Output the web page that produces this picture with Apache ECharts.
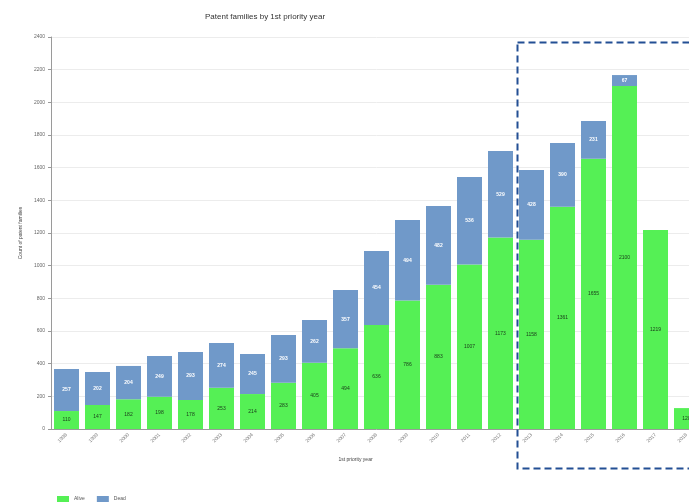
<!DOCTYPE html>
<html>
<head>
<meta charset="utf-8">
<style>
  html, body { margin: 0; padding: 0; background: #fff; overflow: hidden; }
  /* the plot runs a little past the right edge of the window */
  #chart { width: 702px; height: 502px; }
</style>
<script src="https://cdn.jsdelivr.net/npm/echarts@6/dist/echarts.min.js"></script>
</head>
<body>
<div id="chart"></div>
<script>
// Priority years on the category axis
const years = ['1998', '1999', '2000', '2001', '2002', '2003', '2004', '2005', '2006', '2007',
  '2008', '2009', '2010', '2011', '2012', '2013', '2014', '2015', '2016', '2017', '2018'];

// Patent family counts per status
const aliveCounts = [110, 147, 182, 198, 178, 253, 214, 283, 405, 494,
  636, 786, 883, 1007, 1173, 1158, 1361, 1655, 2100, 1219, 128];
const deadCounts = [257, 202, 204, 249, 293, 274, 245, 293, 262, 357,
  454, 494, 482, 536, 529, 428, 390, 231, 67, null, null];

const seriesNames = ['Alive', 'Dead'];
const yTicks = { min: 0, max: 2400, interval: 200 };

const chart = echarts.init(document.getElementById('chart'), null, { renderer: 'canvas' });

const labelBase = { show: true, position: 'inside', fontSize: 5, fontFamily: 'Liberation Sans' };

chart.setOption({
  animation: false,
  backgroundColor: '#ffffff',
  title: {
    text: 'Patent families by 1st priority year',
    left: 200,
    top: 8,
    textStyle: { fontSize: 8, fontWeight: 'normal', color: '#333', fontFamily: 'Liberation Sans' }
  },
  legend: {
    left: 52,
    top: 491,
    itemWidth: 12,
    itemHeight: 6,
    itemGap: 12,
    icon: 'rect',
    textStyle: { fontSize: 5, color: '#555', fontFamily: 'Liberation Sans' },
    data: seriesNames
  },
  grid: { left: 51, top: 37, bottom: 73, right: 0, containLabel: false },
  xAxis: {
    type: 'category',
    data: years,
    name: '1st priority year',
    nameLocation: 'middle',
    nameGap: 28,
    nameTextStyle: { fontSize: 5, color: '#444', fontFamily: 'Liberation Sans', padding: [0, 42, 0, 0] },
    axisLine: { show: true, lineStyle: { color: '#9a9a9a', width: 1 } },
    axisTick: { show: false },
    axisLabel: { rotate: 45, fontSize: 5, color: '#777', margin: 5, fontFamily: 'Liberation Sans' }
  },
  yAxis: {
    type: 'value',
    min: yTicks.min,
    max: yTicks.max,
    interval: yTicks.interval,
    name: 'Count of patent families',
    nameLocation: 'middle',
    nameGap: 25,
    nameTextStyle: { fontSize: 5, color: '#444', fontFamily: 'Liberation Sans' },
    axisLine: { show: true, lineStyle: { color: '#9a9a9a', width: 1 } },
    axisTick: { show: true, length: 3, lineStyle: { color: '#9a9a9a' } },
    axisLabel: {
      fontSize: 5, color: '#666', margin: 6, fontFamily: 'Liberation Sans',
      formatter: function (v) { return String(v); }
    },
    splitLine: { show: true, lineStyle: { color: '#ececec', width: 1 } }
  },
  series: [
    {
      name: seriesNames[0],
      type: 'bar',
      stack: 'total',
      barWidth: 25,
      data: aliveCounts,
      itemStyle: { color: '#55f055' },
      label: Object.assign({}, labelBase, { color: '#1a3a1a' })
    },
    {
      name: seriesNames[1],
      type: 'bar',
      stack: 'total',
      barWidth: 25,
      data: deadCounts,
      itemStyle: { color: '#7099c9' },
      label: Object.assign({}, labelBase, { color: '#ffffff', fontWeight: 'bold' })
    }
  ],
  graphic: [
    {
      type: 'rect',
      left: 515,
      top: 40,
      shape: { width: 200, height: 426 },
      style: { fill: 'none', stroke: '#234f94', lineWidth: 2, lineDash: [7, 4] },
      z: 100
    }
  ]
});
</script>
</body>
</html>
